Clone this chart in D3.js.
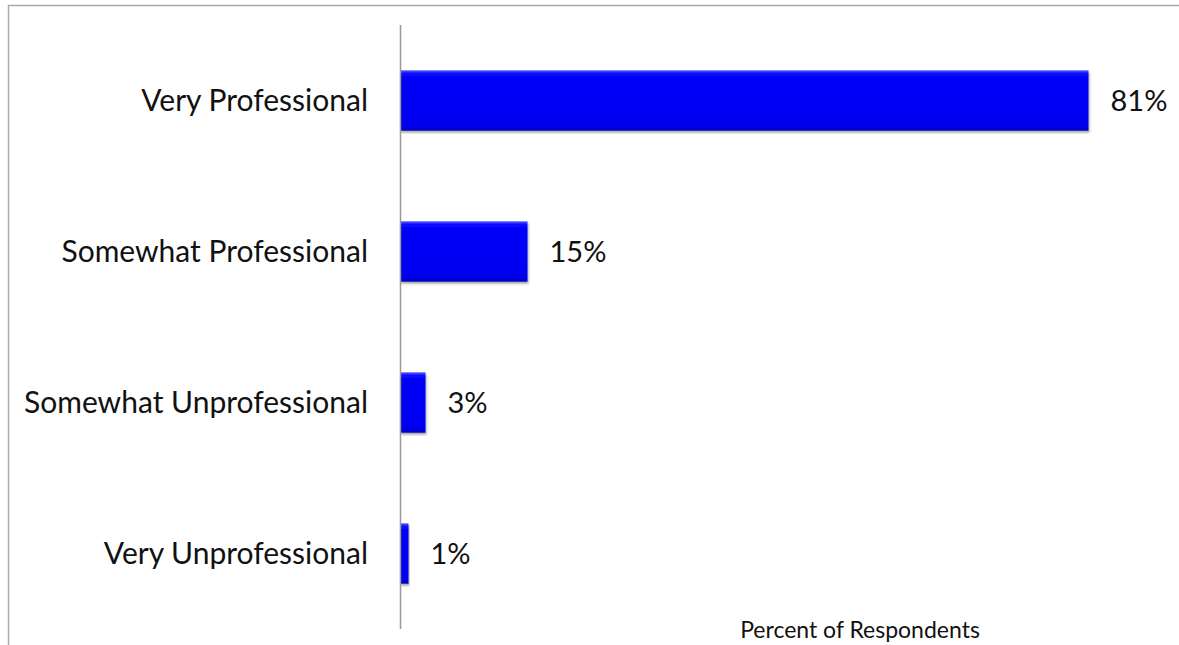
<!DOCTYPE html>
<html>
<head>
<meta charset="utf-8">
<script src="https://cdn.jsdelivr.net/npm/d3@7"></script>
<style>
  body { margin: 0; background: #fff; overflow: hidden; }
  svg { display: block; }
  text { font-family: Lato, "Open Sans", sans-serif; fill: #111; }
</style>
</head>
<body>
<div id="chart"></div>
<script>
// Chart data
const categories = ["Very Professional", "Somewhat Professional", "Somewhat Unprofessional", "Very Unprofessional"];
const values = [81, 15, 3, 1];
const axisTitle = "Percent of Respondents";

const W = 1179, H = 645;
const margin = { top: 25, right: 0, bottom: 16, left: 400 };

const svg = d3.select("#chart")
    .append("svg")
    .attr("width", W)
    .attr("height", H);

// Outer frame: only top and left edges are visible
svg.append("path")
    .attr("d", `M8.5,${H} V5.5 H${W}`)
    .attr("fill", "none")
    .attr("stroke", "#aaa")
    .attr("stroke-width", 1.5);

// Gradient + shadow for the bevelled bars
const defs = svg.append("defs");
const grad = defs.append("linearGradient")
    .attr("id", "barGrad")
    .attr("x1", 0).attr("y1", 0).attr("x2", 0).attr("y2", 1);
grad.append("stop").attr("offset", "0%").attr("stop-color", "#5a5aff");
grad.append("stop").attr("offset", "5%").attr("stop-color", "#1010ff");
grad.append("stop").attr("offset", "12%").attr("stop-color", "#0000fa");
grad.append("stop").attr("offset", "92%").attr("stop-color", "#0000f0");
grad.append("stop").attr("offset", "100%").attr("stop-color", "#0000b8");

const shadow = defs.append("filter").attr("id", "shadow")
    .attr("x", "-5%").attr("y", "-10%").attr("width", "120%").attr("height", "140%");
shadow.append("feDropShadow")
    .attr("dx", 1).attr("dy", 2).attr("stdDeviation", 1.2)
    .attr("flood-color", "#000").attr("flood-opacity", 0.35);

// Scales
const x = d3.scaleLinear()
    .domain([0, 100])
    .range([margin.left, margin.left + 850]);

const y = d3.scaleBand()
    .domain(categories)
    .range([margin.top, H - margin.bottom])
    .paddingInner(0.6)
    .paddingOuter(0.3);

// Bars
svg.selectAll(".bar")
    .data(categories)
    .enter().append("rect")
    .attr("class", "bar")
    .attr("x", x(0))
    .attr("y", d => y(d))
    .attr("width", (d, i) => x(values[i]) - x(0))
    .attr("height", y.bandwidth())
    .attr("fill", "url(#barGrad)")
    .attr("filter", "url(#shadow)");

// Vertical axis line
svg.append("line")
    .attr("x1", x(0) + 0.5).attr("x2", x(0) + 0.5)
    .attr("y1", margin.top).attr("y2", H - margin.bottom)
    .attr("stroke", "#999")
    .attr("stroke-width", 1.5);

// Category labels
svg.selectAll(".cat")
    .data(categories)
    .enter().append("text")
    .attr("class", "cat")
    .attr("x", 368)
    .attr("y", d => y(d) + y.bandwidth() / 2)
    .attr("dy", "0.35em")
    .attr("text-anchor", "end")
    .attr("font-size", 30)
    .text(d => d);

// Value labels
svg.selectAll(".val")
    .data(categories)
    .enter().append("text")
    .attr("class", "val")
    .attr("x", (d, i) => x(values[i]) + 22)
    .attr("y", d => y(d) + y.bandwidth() / 2)
    .attr("dy", "0.35em")
    .attr("font-size", 29)
    .text((d, i) => values[i] + "%");

// Axis title
svg.append("text")
    .attr("x", 860)
    .attr("y", 638)
    .attr("text-anchor", "middle")
    .attr("font-size", 23)
    .text(axisTitle);
</script>
</body>
</html>
